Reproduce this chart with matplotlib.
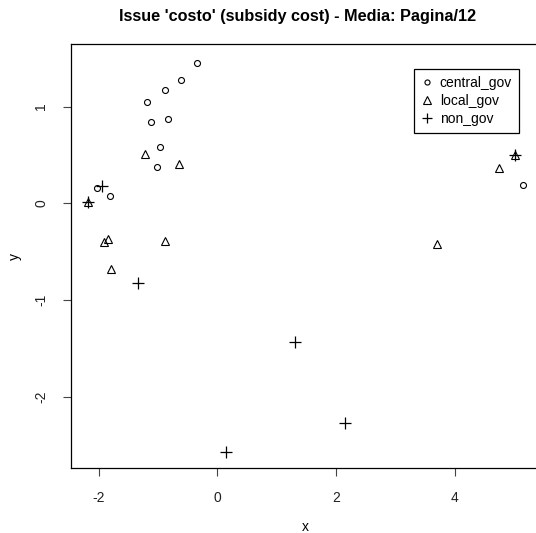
import matplotlib
matplotlib.use("Agg")
import matplotlib.pyplot as plt

plt.rcParams['font.family'] = ['Liberation Sans', 'DejaVu Sans']

central_x = [-0.35, -0.61, -0.89, -1.18, -1.12, -0.83, -0.97, -1.02, -2.03, -1.81, 5.16]
central_y = [1.45, 1.27, 1.17, 1.05, 0.84, 0.87, 0.58, 0.38, 0.16, 0.08, 0.19]

local_x = [-1.22, -0.64, -1.85, -1.91, -0.88, -1.79, -2.19, 4.75, 5.02, 3.71]
local_y = [0.51, 0.41, -0.37, -0.40, -0.39, -0.68, 0.01, 0.36, 0.50, -0.42]

non_x = [-1.94, -2.19, -1.34, 1.31, 2.15, 0.14, 5.02]
non_y = [0.18, 0.01, -0.82, -1.43, -2.27, -2.57, 0.50]

series_labels = ['central_gov', 'local_gov', 'non_gov']
x_ticks = [-2, 0, 2, 4]
y_ticks = [-2, -1, 0, 1]
title = "Issue 'costo' (subsidy cost) - Media: Pagina/12"

W, H = 536, 533
fig = plt.figure(figsize=(W / 100, H / 100), dpi=100)
left, right, top, bottom = 70.7, 540.5, 43.7, 468.3
ax = fig.add_axes([left / W, 1 - bottom / H, (right - left) / W, (bottom - top) / H])

ax.plot(central_x, central_y, linestyle='none', marker='o', ms=4.3, mfc='none',
        mec='black', mew=0.8, label=series_labels[0], clip_on=False)
ax.plot(local_x, local_y, linestyle='none', marker='^', ms=6, mfc='none',
        mec='black', mew=0.8, label=series_labels[1], clip_on=False)
ax.plot(non_x, non_y, linestyle='none', marker='+', ms=8, mec='black',
        mew=0.9, label=series_labels[2], clip_on=False)

ax.set_xlim(-2.475, 5.45)
ax.set_ylim(-2.74, 1.65)
ax.set_xticks(x_ticks)
ax.set_yticks(y_ticks)
ax.set_xticklabels([str(v) for v in x_ticks])
ax.set_yticklabels([str(v) for v in y_ticks], rotation=90, va='center')

for s in ax.spines.values():
    s.set_linewidth(0.9)
    s.set_color('black')
ax.spines['right'].set_visible(False)
ax.tick_params(axis='both', length=6, width=0.8, color='#444444', labelsize=10,
               labelcolor='#222222')
ax.tick_params(axis='x', pad=10)
ax.tick_params(axis='y', pad=10)

fig.text(297.5 / W, 1 - 16 / H, title, ha='center', va='center',
         fontsize=11.7, fontweight='bold')
fig.text(305 / W, 1 - 527 / H, 'x', ha='center', va='center', fontsize=10)
fig.text(15 / W, 1 - 257 / H, 'y', ha='center', va='center', fontsize=10, rotation=90)

leg = fig.legend(loc='upper left', bbox_to_anchor=(414 / W, 1 - 69 / H),
                 frameon=True, fancybox=False, edgecolor='black', framealpha=1,
                 fontsize=10, handlelength=0.8, handletextpad=0.55,
                 borderpad=0.5, labelspacing=0.28, borderaxespad=0, markerscale=0.85)
leg.get_frame().set_linewidth(0.9)

fig.savefig('out.png', dpi=100)
